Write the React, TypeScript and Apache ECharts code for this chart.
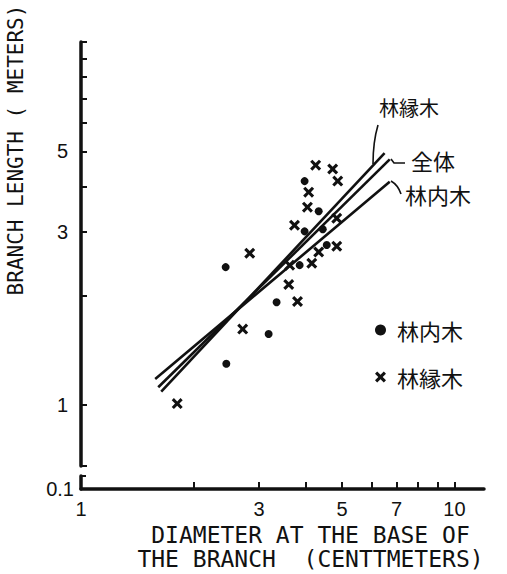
import React, { useEffect, useRef } from "react";
import * as echarts from "echarts";

// 林内木 (interior trees): [diameter cm, branch length m]
const innerPoints: number[][] = [
  [3.97, 4.14], [4.33, 3.42], [3.97, 3.01], [4.44, 3.05], [4.55, 2.76],
  [3.85, 2.43], [2.44, 2.4], [3.34, 1.92], [3.18, 1.57], [2.45, 1.3],
];
// 林縁木 (edge trees)
const edgePoints: number[][] = [
  [4.25, 4.58], [4.72, 4.47], [4.87, 4.14], [4.07, 3.86], [4.04, 3.51],
  [3.73, 3.13], [4.84, 3.27], [2.83, 2.62], [4.33, 2.64], [4.84, 2.74],
  [4.15, 2.46], [3.62, 2.43], [3.6, 2.15], [3.8, 1.93], [2.71, 1.62],
  [1.81, 1.01],
];
// regression lines (end points)
const innerFit: number[][] = [[1.58, 1.18], [6.71, 4.12]];
const allFit: number[][] = [[1.61, 1.12], [6.71, 4.75]];
const edgeFit: number[][] = [[1.64, 1.09], [6.5, 4.94]];

const xTicks = [2, 3, 4, 5, 6, 7, 8, 9, 10];
const xLabels = [1, 3, 5, 7, 10];
const yTicks = [0.68, 1, 2, 3, 4, 5, 6, 7, 8, 9, 10];
const yLabels = [1, 3, 5];
const yBreakTicks = [0.125];
const yBreakLabels = [0.1];

const INK = "#111";
const CROSS = "path://M0,2L2,0L5,3L8,0L10,2L7,5L10,8L8,10L5,7L2,10L0,8L3,5Z";
const NUM_FONT = "Liberation Sans";
const CJK_FONT = '"Noto Sans CJK JP"';

export default function App() {
  const ref = useRef<HTMLDivElement>(null);
  useEffect(() => {
    if (!ref.current) return;
    const chart = echarts.init(ref.current, null, { renderer: "svg" });
    const lineSeries = (name: string, data: number[][]) => ({
      name,
      type: "line",
      xAxisIndex: 0,
      yAxisIndex: 0,
      data,
      symbol: "none",
      lineStyle: { color: INK, width: 2.6 },
      silent: true,
      z: 2,
    });
    chart.setOption({
      animation: false,
      backgroundColor: "#fff",
      tooltip: { show: false },
      grid: [
        { left: 81, width: 403, top: 42, height: 424 },
        { left: 81, width: 403, top: 476, height: 13 },
      ],
      xAxis: [
        { gridIndex: 0, type: "log", min: 1, max: 12, show: false },
        {
          gridIndex: 1,
          type: "log",
          min: 1,
          max: 12,
          axisLine: { show: true, onZero: false, lineStyle: { color: INK, width: 3.5 } },
          axisTick: { show: true, inside: true, length: 7, customValues: xTicks, lineStyle: { color: INK, width: 2 } },
          axisLabel: {
            customValues: xLabels,
            formatter: (v: number) => String(v),
            margin: 10,
            color: INK,
            fontSize: 20,
            fontFamily: NUM_FONT,
          },
          splitLine: { show: false },
          minorTick: { show: false },
          name: "DIAMETER AT THE BASE OF\nTHE BRANCH  (CENTTMETERS)",
          nameLocation: "middle",
          nameGap: 34,
          nameTextStyle: {
            color: INK,
            fontSize: 23,
            lineHeight: 24,
            fontFamily: "DejaVu Sans Mono",
            padding: [0, 0, 0, 56],
          },
        },
      ],
      yAxis: [
        {
          gridIndex: 0,
          type: "log",
          min: 0.68,
          max: 10,
          axisLine: { show: true, onZero: false, lineStyle: { color: INK, width: 3.5 } },
          axisTick: { show: true, inside: true, length: 6, customValues: yTicks, lineStyle: { color: INK, width: 2 } },
          axisLabel: {
            customValues: yLabels,
            formatter: (v: number) => String(v),
            margin: 13,
            color: INK,
            fontSize: 20,
            fontFamily: NUM_FONT,
          },
          splitLine: { show: false },
          minorTick: { show: false },
        },
        {
          gridIndex: 1,
          type: "log",
          min: 0.1,
          max: 0.125,
          axisLine: { show: true, onZero: false, lineStyle: { color: INK, width: 3.5 } },
          axisTick: { show: true, inside: true, length: 5, customValues: yBreakTicks, lineStyle: { color: INK, width: 2 } },
          axisLabel: {
            customValues: yBreakLabels,
            formatter: (v: number) => String(v),
            margin: 7,
            color: INK,
            fontSize: 20,
            fontFamily: NUM_FONT,
          },
          splitLine: { show: false },
          minorTick: { show: false },
        },
      ],
      legend: {
        orient: "vertical",
        left: 370,
        top: 314,
        itemGap: 25,
        itemWidth: 11,
        itemHeight: 11,
        selectedMode: false,
        textStyle: { color: INK, fontSize: 22, lineHeight: 22, fontFamily: CJK_FONT, padding: [0, 0, 0, 6] },
        data: [
          { name: "林内木", icon: "circle" },
          { name: "林縁木", icon: CROSS },
        ],
      },
      series: [
        lineSeries("全体", allFit),
        lineSeries("林縁木線", edgeFit),
        lineSeries("林内木線", innerFit),
        {
          name: "林内木",
          type: "scatter",
          xAxisIndex: 0,
          yAxisIndex: 0,
          data: innerPoints,
          symbol: "circle",
          symbolSize: 8,
          itemStyle: { color: INK, opacity: 1 },
          z: 3,
        },
        {
          name: "林縁木",
          type: "scatter",
          xAxisIndex: 0,
          yAxisIndex: 0,
          data: edgePoints,
          symbol: CROSS,
          symbolSize: 11,
          itemStyle: { color: INK, opacity: 1 },
          z: 3,
        },
      ],
      graphic: [
        {
          type: "text",
          x: 16,
          y: 150,
          rotation: Math.PI / 2,
          style: {
            text: "BRANCH LENGTH ( METERS)",
            font: '21px "DejaVu Sans Mono"',
            fill: INK,
            align: "center",
            verticalAlign: "middle",
            textAlign: "center",
            textVerticalAlign: "middle",
          },
        },
        {
          type: "text",
          x: 409,
          y: 107,
          style: {
            text: "林縁木",
            font: `20px ${CJK_FONT}`,
            fill: INK,
            align: "center",
            verticalAlign: "middle",
            textAlign: "center",
            textVerticalAlign: "middle",
          },
        },
        {
          type: "text",
          x: 433,
          y: 160,
          style: {
            text: "全体",
            font: `22px ${CJK_FONT}`,
            fill: INK,
            align: "center",
            verticalAlign: "middle",
            textAlign: "center",
            textVerticalAlign: "middle",
          },
        },
        {
          type: "text",
          x: 438,
          y: 194,
          style: {
            text: "林内木",
            font: `22px ${CJK_FONT}`,
            fill: INK,
            align: "center",
            verticalAlign: "middle",
            textAlign: "center",
            textVerticalAlign: "middle",
          },
        },
        {
          type: "bezierCurve",
          shape: { x1: 378, y1: 125, x2: 373, y2: 164, cpx1: 373, cpy1: 142 },
          style: { stroke: INK, lineWidth: 1.6, fill: null },
        },
        {
          type: "polyline",
          shape: { points: [[391, 159], [394, 163], [405, 163]] },
          style: { stroke: INK, lineWidth: 1.6, fill: null },
        },
        {
          type: "bezierCurve",
          shape: { x1: 391, y1: 181, x2: 401, y2: 194, cpx1: 398, cpy1: 185 },
          style: { stroke: INK, lineWidth: 1.6, fill: null },
        },
      ],
    });
    return () => chart.dispose();
  }, []);
  return <div ref={ref} style={{ width: 507, height: 574, position: "absolute", left: 0, top: 0 }} />;
}
